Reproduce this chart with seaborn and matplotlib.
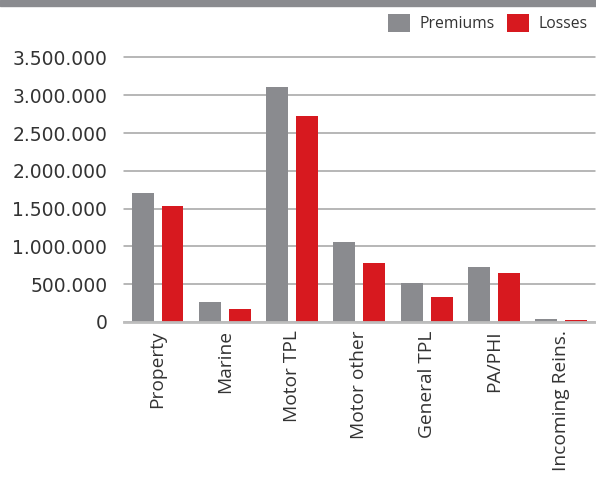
import pandas as pd
import matplotlib
matplotlib.use("Agg")
import matplotlib.pyplot as plt
import seaborn as sns
from matplotlib.patches import Patch, Rectangle
from matplotlib.ticker import FuncFormatter

# Values
categories = ["Property", "Marine", "Motor TPL", "Motor other",
              "General TPL", "PA/PHI", "Incoming Reins."]
premiums = [1700000, 262000, 3110000, 1062000, 516000, 729000, 36000]
losses = [1528000, 169000, 2727000, 782000, 329000, 649000, 23000]
series = ["Premiums", "Losses"]

GRAY = "#8a8b8f"
RED = "#d7191f"

df = pd.DataFrame({
    "category": categories * 2,
    "series": [series[0]] * len(categories) + [series[1]] * len(categories),
    "value": premiums + losses,
})

sns.set_style("white")
plt.rcParams["font.family"] = ["DejaVu Sans"]

fig = plt.figure(figsize=(5.96, 4.79), dpi=100)
ax = fig.add_axes([0.208, 0.328, 0.79, 0.552])

sns.barplot(data=df, x="category", y="value", hue="series",
            palette=[GRAY, RED], width=0.89, gap=0.27, linewidth=0,
            saturation=1, legend=False, ax=ax, zorder=3)

ax.set_ylim(0, 3.5e6)
ax.set_xlim(-0.5, len(categories) - 0.5)
ax.set_yticks([i * 500000 for i in range(8)])
ax.yaxis.set_major_formatter(FuncFormatter(lambda v, p: f"{int(v):,}".replace(",", ".")))
ax.grid(axis="y", color="#a3a3a3", linewidth=1.1, zorder=0)
for gl in ax.get_ygridlines():
    gl.set_clip_on(False)
ax.set_xlabel("")
ax.set_ylabel("")
for s in ["top", "right", "left"]:
    ax.spines[s].set_visible(False)
ax.spines["bottom"].set_color("#bdbdbd")
ax.spines["bottom"].set_linewidth(2)
ax.spines["bottom"].set_zorder(4)
ax.tick_params(axis="both", length=0)
ax.tick_params(axis="y", pad=12, labelsize=13.5, labelcolor="#333333")
plt.setp(ax.get_xticklabels(), rotation=90, fontsize=13.8, color="#333333",
         family="Open Sans", va="top")
ax.tick_params(axis="x", pad=6)

# grey strip at the very top
fig.patches.append(Rectangle((0, 1 - 6 / 479), 1, 6 / 479, transform=fig.transFigure,
                             color=GRAY, zorder=0))

handles = [Patch(facecolor=GRAY, edgecolor="none"), Patch(facecolor=RED, edgecolor="none")]
fig.legend(handles, series, loc="upper right", bbox_to_anchor=(1.01, 1.0), ncol=2,
           frameon=False, prop={"family": "Open Sans", "size": 11.3},
           handlelength=1.4, handleheight=1.4, handletextpad=0.6,
           columnspacing=0.8, labelcolor="#333333")

fig.savefig("out.png", dpi=100)
